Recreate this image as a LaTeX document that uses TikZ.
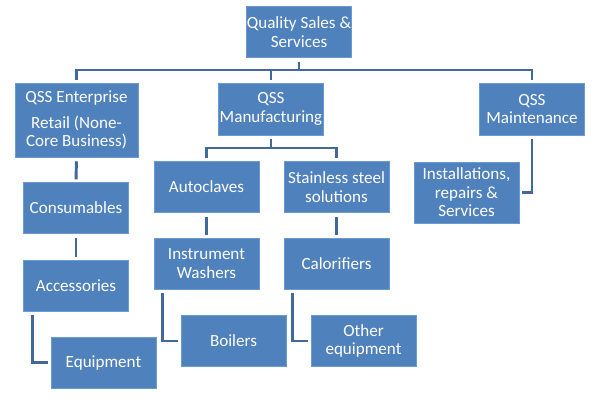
\documentclass[tikz,border=0pt]{standalone}
\usepackage{fontspec}
\setmainfont{Carlito}
\definecolor{boxblue}{HTML}{4F81BD}
\definecolor{boxedge}{HTML}{6B9AD2}
\definecolor{linkblue}{HTML}{41699A}
\begin{document}
\begin{tikzpicture}[x=0.75pt,y=-0.75pt,
  box/.style={draw=boxedge,line width=0.4pt,fill=boxblue,text=white,inner sep=0pt,
    align=center,font=\fontsize{12.8}{13.8}\selectfont,
    minimum width=78.5pt,minimum height=38pt},
  conn/.style={draw=linkblue,line width=2.2pt,shorten <=3pt,shorten >=2.2pt}]
\path[fill=white] (0,0) rectangle (600,400);
\useasboundingbox (0,0) rectangle (600,400);
% nodes
\node[box] (top) at (299,32) {Quality Sales \&\\Services};
\node[box,minimum width=92.5pt,minimum height=55.5pt] (ent) at (76.5,120) {QSS Enterprise\\[5pt]Retail (None-\\Core Business)};
\node[box,minimum height=39pt] (mfg) at (271,109) {QSS\\Manufacturing};
\node[box,minimum height=39pt] (mnt) at (532,109) {QSS\\Maintenance};
\node[box] (cons) at (76,208) {Consumables};
\node[box] (acc) at (76,285.5) {Accessories};
\node[box] (equip) at (103.5,362.5) {Equipment};
\node[box] (auto) at (206.5,187) {Autoclaves};
\node[box] (iw) at (206.5,263.5) {Instrument\\Washers};
\node[box] (boil) at (233.5,341) {Boilers};
\node[box] (sss) at (336.5,187) {Stainless steel\\solutions};
\node[box] (cal) at (336.5,263.5) {Calorifiers};
\node[box] (oth) at (363.5,341) {Other\\equipment};
\node[box,minimum height=46pt] (inst) at (466.5,192.5) {Installations,\\repairs \&\\Services};
% bus coordinates
\coordinate (bus) at (0,70);
\coordinate (sub) at (0,148);
% connectors
\draw[conn] (top.south) -- (top.south |- bus) -| (ent.north);
\draw[conn] (top.south) -- (top.south |- bus) -| (mfg.north);
\draw[conn] (top.south) -- (top.south |- bus) -| (mnt.north);
\draw[conn] (mfg.south) -- (mfg.south |- sub) -| (auto.north);
\draw[conn] (mfg.south) -- (mfg.south |- sub) -| (sss.north);
\draw[conn] (ent.south) -- (cons.north);
\draw[conn] (cons.north |- cons.south) -- (acc.north);
\draw[conn] (auto.south) -- (iw.north);
\draw[conn] (sss.south) -- (cal.north);
\draw[conn] ([xshift=6.75pt]acc.south west) |- (equip.west);
\draw[conn] ([xshift=6.75pt]iw.south west) |- (boil.west);
\draw[conn] ([xshift=6.75pt]cal.south west) |- (oth.west);
\draw[conn] (mnt.south) |- (inst.east);
\end{tikzpicture}
\end{document}
